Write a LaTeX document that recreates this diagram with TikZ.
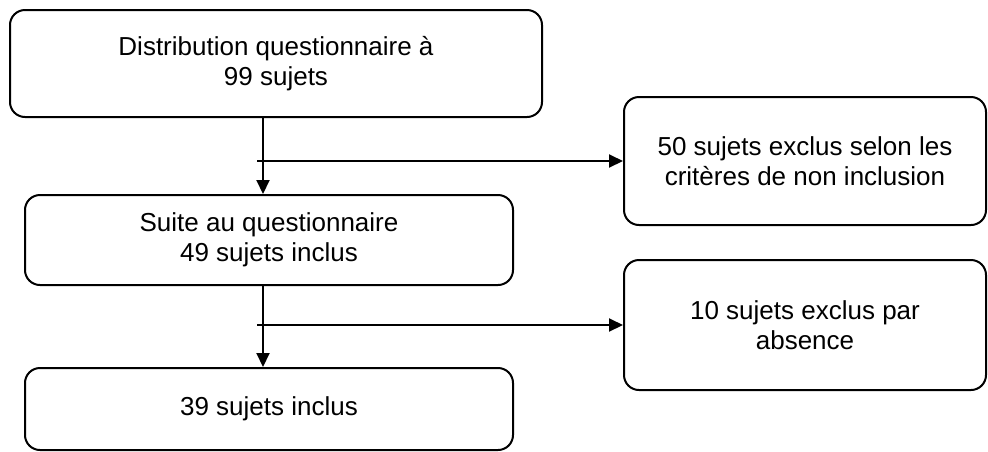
\documentclass[tikz,border=0pt]{standalone}
\usepackage{fontspec}
\setmainfont{Liberation Sans}
\usetikzlibrary{arrows.meta}
\begin{document}
\begin{tikzpicture}[x=1pt,y=-1pt,
  box/.style={draw, line width=2pt, rounded corners=15pt, align=center,
    font=\fontsize{26}{30}\selectfont, inner sep=0pt},
  arr/.style={line width=2pt, -{Triangle[length=14pt,width=13pt]}}]
\useasboundingbox (0,0) rectangle (988,451);
\node[box, minimum width=532pt, minimum height=107pt] (b1) at (276,63.5) {Distribution questionnaire à\\99 sujets};
\node[box, minimum width=488pt, minimum height=90pt] (b2) at (269,240) {Suite au questionnaire\\49 sujets inclus};
\node[box, minimum width=362pt, minimum height=128pt] (b3) at (805,161) {50 sujets exclus selon les\\critères de non inclusion};
\node[box, minimum width=488pt, minimum height=82pt] (b4) at (269,409) {39 sujets inclus};
\node[box, minimum width=362pt, minimum height=130pt] (b5) at (805,325) {10 sujets exclus par\\absence};
\coordinate (v) at (263,0);
\coordinate (h1) at (257,161);
\coordinate (h2) at (257,325);
\draw[arr] (b1.south -| v) -- (b2.north -| v);
\draw[arr] (h1) -- (b3.west |- h1);
\draw[arr] (b2.south -| v) -- (b4.north -| v);
\draw[arr] (h2) -- (b5.west |- h2);
\end{tikzpicture}
\end{document}
